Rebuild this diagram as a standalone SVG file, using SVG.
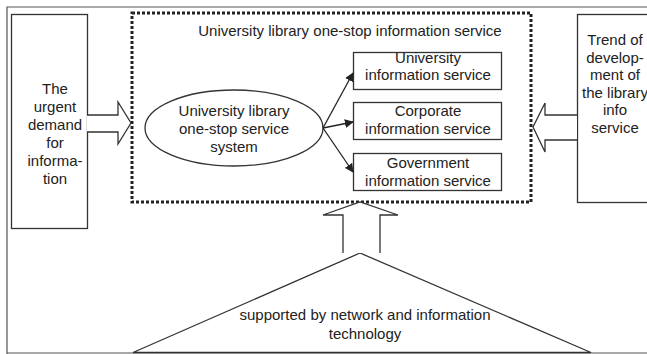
<svg xmlns="http://www.w3.org/2000/svg" width="647" height="354" viewBox="0 0 647 354">
<defs>
<style>
text{font-family:"Liberation Sans",Arial,sans-serif;font-size:15px;fill:#222;text-anchor:middle}
.ln{fill:#fff;stroke:#333;stroke-width:1.3}
.frame{fill:none;stroke:#555;stroke-width:1.2}
.dot{fill:none;stroke:#222;stroke-width:3;stroke-dasharray:3 2}
.con{fill:none;stroke:#222;stroke-width:1.3}
</style>
<marker id="ah" viewBox="0 0 10 10" refX="9" refY="5" markerWidth="9" markerHeight="9" markerUnits="userSpaceOnUse" orient="auto">
<path d="M0,0 L10,5 L0,10 z" fill="#222"/>
</marker>
</defs>
<rect width="647" height="354" fill="#fff"/>
<path class="frame" d="M7,354 V7 H647 M7,353 H647"/>
<g id="left">
<rect class="ln" x="11.5" y="14.5" width="76" height="214" stroke-width="1.8"/>
<text x="55" y="94">The</text>
<text x="55" y="112">urgent</text>
<text x="55" y="130">demand</text>
<text x="55" y="148">for</text>
<text x="55" y="166">informa-</text>
<text x="55" y="184">tion</text>
</g>
<g id="right">
<rect class="ln" x="577.5" y="14.5" width="80" height="188"/>
<text x="615" y="45">Trend of</text>
<text x="615" y="62.5">develop-</text>
<text x="615" y="80">ment of</text>
<text x="615" y="97.5">the library</text>
<text x="615" y="115">info</text>
<text x="615" y="132.5">service</text>
</g>
<g id="main">
<rect class="dot" x="132" y="13" width="399" height="189"/>
<text x="350" y="36">University library one-stop information service</text>
</g>
<g id="system">
<ellipse class="ln" cx="234" cy="128" rx="89" ry="38"/>
<text x="234" y="116">University library</text>
<text x="234" y="134">one-stop service</text>
<text x="234" y="152">system</text>
</g>
<g id="univ">
<rect class="ln" x="353.5" y="52.5" width="148" height="37"/>
<text x="428" y="63">University</text>
<text x="428" y="80">information service</text>
</g>
<g id="corp">
<rect class="ln" x="353.5" y="102.5" width="148" height="37"/>
<text x="428" y="116">Corporate</text>
<text x="428" y="134">information service</text>
</g>
<g id="gov">
<rect class="ln" x="353.5" y="153.5" width="148" height="37"/>
<text x="428" y="168">Government</text>
<text x="428" y="186">information service</text>
</g>
<g id="base">
<path class="ln" d="M360,253 L133,352.5 L591,352.5 Z"/>
<text x="365" y="320">supported by network and information</text>
<text x="365" y="339">technology</text>
</g>
<g id="connectors">
<line class="con" x1="323" y1="128" x2="353" y2="73" marker-end="url(#ah)"/>
<line class="con" x1="323" y1="128" x2="353" y2="122" marker-end="url(#ah)"/>
<line class="con" x1="323" y1="128" x2="353" y2="172" marker-end="url(#ah)"/>
<path class="ln" d="M87,115 H118 V102 L131,123 L118,144 V132 H87"/>
<path class="ln" d="M577,115 H545 V103 L533,127 L545,152 V140 H577"/>
<path class="ln" d="M343,253 V215 H323 L360,202 L398,215 H380 V253"/>
</g>
</svg>
